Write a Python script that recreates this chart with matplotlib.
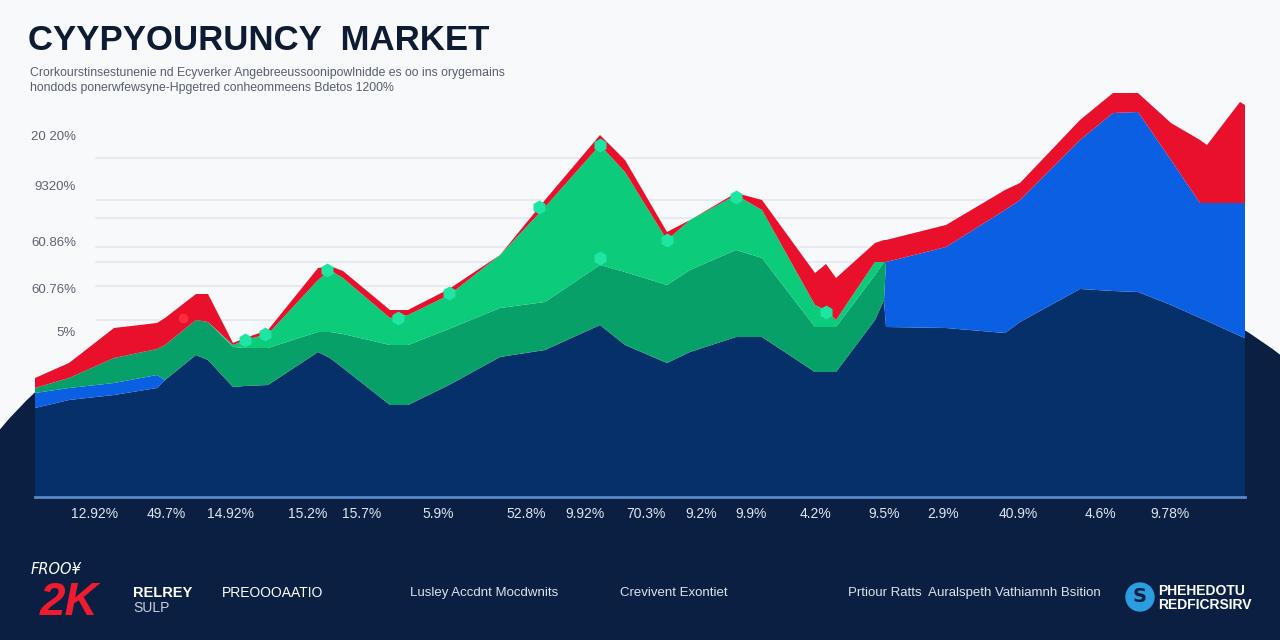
import matplotlib
matplotlib.use("Agg")
import matplotlib.pyplot as plt
from matplotlib.patches import Ellipse, Circle
from matplotlib import font_manager

# x positions (trading days) shared by every layer
days = [0, 34, 79, 122, 130, 161, 173, 198, 210, 233, 283, 295, 308, 355, 373,
        414, 465, 510, 565, 590, 632, 655, 701, 727, 780, 791, 801, 840, 849,
        851, 911, 970, 985, 1045, 1078, 1103, 1136, 1165, 1172, 1205, 1210]

# layer thicknesses (stacked, bottom to top)
navy = [22.25, 24.25, 25.5, 27.25, 29.25, 35.5, 34.25, 27.5, 27.75, 28, 36.25,
        34.75, 32.25, 23, 23, 28, 35, 36.75, 43, 38, 33.5, 36.25, 40, 40,
        31.25, 31.25, 31.25, 44.25, 49.25, 42.5, 42.25, 41, 43.75, 52, 51.5,
        51.25, 48, 44.75, 44, 40.25, 39.75]
blue = [3.75, 3, 3, 3.25, 0, 0, 0, 0, 0, 0, 0, 0, 0, 0, 0, 0, 0, 0, 0, 0, 0,
        0, 0, 0, 0, 0, 0, 0, 0, 16.25, 20.25, 30.75, 30.5, 37.25, 44.5, 45,
        36.25, 28.75, 29.5, 33.25, 33.75]
mid_green = [1.25, 2.5, 6.25, 6.5, 8.75, 8.75, 9.5, 10, 9.5, 9.25, 5, 6.5, 8.5,
             15, 15, 14, 12.25, 12, 15, 18.25, 19.5, 20.5, 21.75, 19.75, 11.25,
             11.25, 11.25, 11.25, 9.5, 0, 0, 0, 0, 0, 0, 0, 0, 0, 0, 0, 0]
light_green = [0, 0, 0, 0, 0, 0, 0, 0.5, 2, 3.5, 13, 15.5, 14, 6.75, 7.5, 8.5,
               13.25, 23.75, 30, 25, 11.25, 12.5, 13.75, 12, 5.5, 4.25, 1.75,
               3.25, 0, 0, 0, 0, 0, 0, 0, 0, 0, 0, 0, 0, 0]
red = [2.5, 3.75, 7.5, 6.5, 6.75, 6.5, 7, 0.5, 0.5, 1, 3, 1, 1.75, 2, 1.25, 1.5,
       0, 1.75, 2.5, 3, 2, 0, 0.5, 2.5, 8, 11.5, 10.5, 4.75, 5.5, 5.5, 5.5, 5,
       4.25, 5, 5, 4.75, 9.25, 15.75, 14.5, 25.25, 24.5]

# highlighted points
marker_days = [210, 230, 292, 363, 414, 504, 565, 565, 632, 701, 791]
marker_vals = [39.25, 40.75, 56.75, 44.75, 51, 72.5, 88, 59.75, 64.25, 75, 46.25]
red_marker_days = [148]
red_marker_vals = [44.75]

ytick_vals = [90, 77.5, 63.5, 51.75, 41]
ytick_labels = ["20 20%", "9320%", "60.86%", "60.76%", "5%"]
grid_levels = [84.75, 74.25, 69.75, 62.5, 58.75, 52.75, 44.25]

xtick_days = [60, 131, 195, 273, 327, 403, 491, 550, 611, 666, 716, 781, 849,
              908, 983, 1065, 1135]
xtick_labels = ["12.92%", "49.7%", "14.92%", "15.2%", "15.7%", "5.9%", "52.8%",
                "9.92%", "70.3%", "9.2%", "9.9%", "4.2%", "9.5%", "2.9%",
                "40.9%", "4.6%", "9.78%"]

NAVY_BG = "#0b1f42"
names = {f.name for f in font_manager.fontManager.ttflist}
narrow = "Liberation Sans Narrow" if "Liberation Sans Narrow" in names else "Liberation Sans"

fig = plt.figure(figsize=(12.8, 6.4), dpi=100)
fig.patch.set_facecolor("#f8f9fb")

# background: white top, dark dome at the bottom (pixel coords)
bg = fig.add_axes([0, 0, 1, 1])
bg.set_xlim(0, 1280)
bg.set_ylim(640, 0)
bg.axis("off")
bg.add_patch(Ellipse((680, 608), 1500, 842, color=NAVY_BG, zorder=1))

# main chart
ax = fig.add_axes([35 / 1280, 1 - 497 / 640, 1210 / 1280, 407 / 640])
ax.set_facecolor("#f8f9fb")
ax.set_xlim(0, 1210)
ax.set_ylim(0, 101.75)
for s in ax.spines.values():
    s.set_visible(False)
ax.set_xticks([])
ax.set_yticks([])

for g in grid_levels:
    ax.axhline(g, xmin=0.05, xmax=1.0, color="#e4e8ee", lw=1.2, zorder=1)

ax.stackplot(days, navy, blue, mid_green, light_green, red,
             colors=["#06306a", "#0a5fe3", "#06a068", "#0ccb7b", "#e8102a"],
             linewidth=0, zorder=2)

ax.plot(marker_days, marker_vals, "h", ms=10, color="#1ee6a2", mec="none", zorder=3)
ax.plot(red_marker_days, red_marker_vals, "o", ms=7, color="#ff2a3a", mec="none", zorder=3)

ax.axhline(0, color="#5a88c8", lw=2, zorder=4, clip_on=False)

for v, lab in zip(ytick_vals, ytick_labels):
    ax.text(41, v, lab, ha="right", va="center", fontsize=9.5,
            color="#5c6470", family="Liberation Sans", zorder=5)

for d, lab in zip(xtick_days, xtick_labels):
    ax.text(d, -2.5, lab, ha="center", va="top", fontsize=10,
            color="#dfe6f0", family=narrow, clip_on=False)

# title and subtitle
fig.text(28 / 1280, 1 - 50 / 640, "CYYPYOURUNCY  MARKET", fontsize=25,
         fontweight="bold", color="#0d1b33", family="Liberation Sans")
fig.text(30 / 1280, 1 - 76 / 640,
         "Crorkourstinsestunenie nd Ecyverker Angebreeussoonipowlnidde es oo ins orygemains",
         fontsize=8.8, color="#565e6b", family=narrow)
fig.text(30 / 1280, 1 - 91 / 640,
         "hondods ponerwfewsyne-Hpgetred conheommeens Bdetos 1200%",
         fontsize=8.8, color="#565e6b", family=narrow)

# footer
def ft(x, y, s, color="white", **kw):
    fig.text(x / 1280, 1 - y / 640, s, va="center", color=color, **kw)

ft(31, 569, "FROO¥", fontsize=10.5, family="DejaVu Sans", style="italic")
ft(40, 603, "2K", fontsize=33, fontweight="bold", style="italic",
   color="#ee1c2e", family="Liberation Sans")
ft(133, 593, "RELREY", fontsize=10.5, fontweight="bold", family="Liberation Sans")
ft(133, 608, "SULP", fontsize=10, family=narrow, color="#c8d0dc")
ft(222, 593, "PREOOOAATIO", fontsize=10, family=narrow)
ft(410, 593, "Lusley Accdnt Mocdwnits", fontsize=9.5, family=narrow, color="#dde3ec")
ft(620, 593, "Crevivent Exontiet", fontsize=9.5, family=narrow, color="#dde3ec")
ft(848, 593, "Prtiour Ratts  Auralspeth Vathiamnh Bsition", fontsize=9.5,
   family=narrow, color="#dde3ec")
bg.add_patch(Circle((1140, 597), 14, color="#2a9ee0", zorder=3))
bg.text(1140, 597, "S", ha="center", va="center", fontsize=14, fontweight="bold",
        color=NAVY_BG, zorder=4)
ft(1158, 591, "PHEHEDOTU", fontsize=10, fontweight="bold", family=narrow)
ft(1158, 605, "REDFICRSIRV", fontsize=10, fontweight="bold", family=narrow)

fig.savefig("out.png", dpi=100, facecolor=fig.get_facecolor())
